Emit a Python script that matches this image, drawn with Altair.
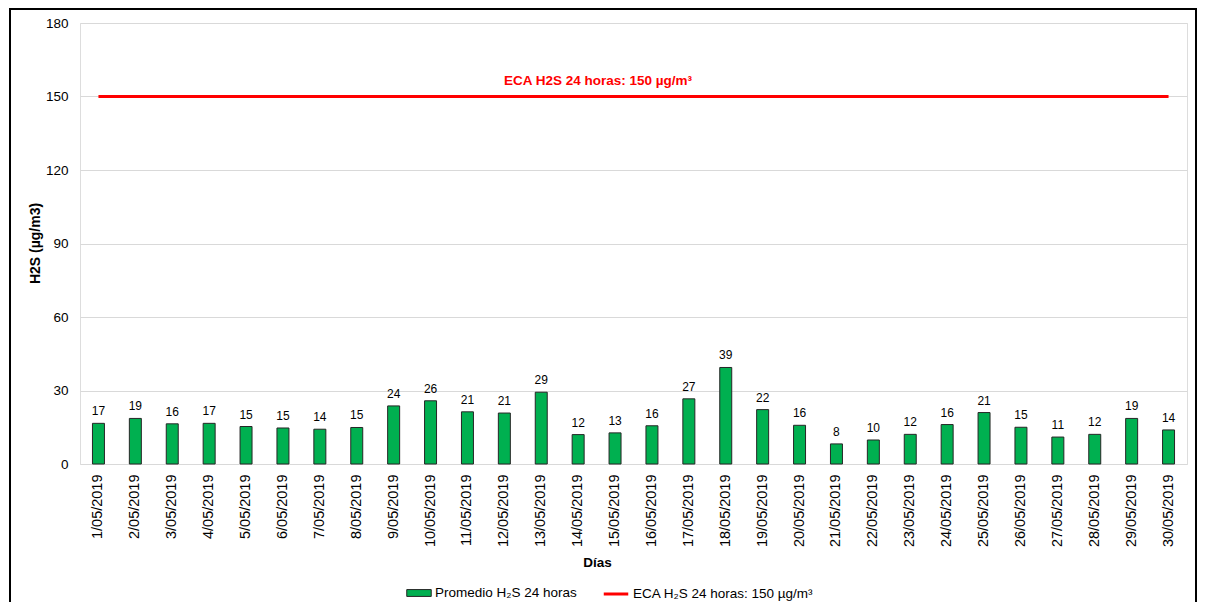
import altair as alt
import pandas as pd

dias = ["1/05/2019", "2/05/2019", "3/05/2019", "4/05/2019", "5/05/2019",
        "6/05/2019", "7/05/2019", "8/05/2019", "9/05/2019", "10/05/2019",
        "11/05/2019", "12/05/2019", "13/05/2019", "14/05/2019", "15/05/2019",
        "16/05/2019", "17/05/2019", "18/05/2019", "19/05/2019", "20/05/2019",
        "21/05/2019", "22/05/2019", "23/05/2019", "24/05/2019", "25/05/2019",
        "26/05/2019", "27/05/2019", "28/05/2019", "29/05/2019", "30/05/2019"]
promedio = [16.6, 18.6, 16.4, 16.6, 15.3, 14.7, 14.2, 14.9, 23.7, 25.8,
            21.3, 20.8, 29.3, 12.0, 12.7, 15.6, 26.6, 39.4, 22.2, 15.8,
            8.2, 9.8, 12.1, 16.1, 21.0, 15.0, 11.0, 12.1, 18.6, 13.9]
eca_limite = 150
serie_bar = "Promedio H\u2082S 24 horas"
serie_eca = "ECA H\u2082S 24 horas: 150 \u00b5g/m\u00b3"
eca_texto = "ECA H2S 24 horas: 150 \u00b5g/m\u00b3"
eca_texto_dia = "15/05/2019"
y_ticks = [0, 30, 60, 90, 120, 150, 180]

df = pd.DataFrame({"dia": dias, "valor": promedio, "serie": serie_bar})
df_eca = pd.DataFrame({"dia": dias, "valor": [eca_limite] * len(dias), "serie": serie_eca})
df_txt = pd.DataFrame({"dia": [eca_texto_dia], "valor": [eca_limite], "texto": [eca_texto]})

FONT = "Liberation Sans"

x_enc = alt.X(
    "dia:N", sort=dias,
    scale=alt.Scale(paddingInner=0.675, paddingOuter=0.3375),
    axis=alt.Axis(title="Días", labelAngle=-90, labelFontSize=14.5, labelPadding=10,
                  ticks=False, domain=False, grid=False, labelColor="black",
                  titleFontSize=13.5, titleFontWeight="bold", titleColor="black",
                  titleX=517, titleY=91, titleBaseline="top"),
)
y_enc = alt.Y(
    "valor:Q",
    scale=alt.Scale(domain=[0, 180], nice=False),
    axis=alt.Axis(values=y_ticks, title="H2S (\u00b5g/m3)", labelFontSize=13.5,
                  labelPadding=12, ticks=False, domain=False, grid=True,
                  gridColor="#D9D9D9", gridWidth=1, labelColor="black",
                  titleFontSize=14, titleFontWeight="bold", titleColor="black",
                  titleX=-38, titleY=220),
)

bars = alt.Chart(df).mark_bar(stroke="#262626", strokeWidth=1).encode(
    x=x_enc, y=y_enc,
    color=alt.Color("serie:N",
                    scale=alt.Scale(domain=[serie_bar], range=["#00B050"]),
                    legend=alt.Legend(title=None, orient="none", legendX=326, legendY=557,
                                      symbolType="M-1,-0.28H1V0.28H-1Z", symbolSize=600,
                                      symbolStrokeColor="#262626", symbolStrokeWidth=1,
                                      labelFontSize=13.5, labelColor="black", labelFont=FONT,
                                      labelOffset=3, labelLimit=400, padding=0)),
)

labels = alt.Chart(df).mark_text(baseline="bottom", dy=-5, fontSize=12, font=FONT,
                                 color="black").encode(
    x=alt.X("dia:N", sort=dias), y="valor:Q",
    text=alt.Text("valor:Q", format=".0f"),
)

eca_line = alt.Chart(df_eca).mark_line(strokeWidth=3).encode(
    x=alt.X("dia:N", sort=dias), y="valor:Q",
    color=alt.Color("serie:N",
                    scale=alt.Scale(domain=[serie_eca], range=["#FF0000"]),
                    legend=alt.Legend(title=None, orient="none", legendX=522, legendY=557,
                                      symbolType="stroke", symbolSize=600,
                                      symbolStrokeWidth=3,
                                      labelFontSize=13.5, labelColor="black", labelFont=FONT,
                                      labelOffset=3, labelLimit=400, padding=0)),
)

eca_label = alt.Chart(df_txt).mark_text(fontWeight="bold", color="#FF0000", fontSize=13.5,
                                        font=FONT, dx=-17, dy=-16, baseline="middle").encode(
    x=alt.X("dia:N", sort=dias), y="valor:Q", text="texto:N",
)

frame = alt.Chart(df_txt).mark_rect(filled=False, stroke="black", strokeWidth=2,
                                    clip=False).encode(
    x=alt.value(-70), x2=alt.value(1116), y=alt.value(-14), y2=alt.value(640),
)

chart = alt.layer(bars, labels, eca_line, eca_label, frame).resolve_scale(
    color="independent"
).properties(
    width=1107, height=441,
    autosize=alt.AutoSizeParams(type="none"),
    padding={"left": 72, "top": 15, "right": 10, "bottom": 138},
).configure_view(stroke=None).configure(font=FONT)

chart.save("out.html", embed_options={"renderer": "svg", "actions": False})
